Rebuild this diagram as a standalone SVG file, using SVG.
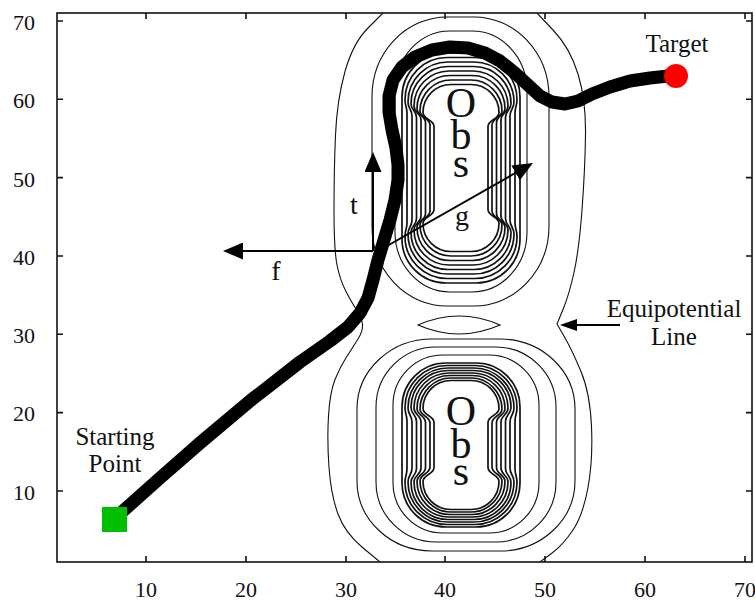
<svg xmlns="http://www.w3.org/2000/svg" width="755" height="601" viewBox="0 0 755 601">
<style>
  text{font-family:"Liberation Serif","Times New Roman",serif;fill:#111}
  .ax{fill:none;stroke:#111;stroke-width:1.6}
  .tk{font-size:22px}
  .lb{font-size:25px}
  .vl{font-size:28px}
  .ob{font-size:42px;text-anchor:middle}
  .c{fill:none;stroke:#111;stroke-width:1.1}
  .d{fill:none;stroke:#111;stroke-width:1.7}
  .ar{fill:none;stroke:#000;stroke-width:2}
</style>
<defs>
  <clipPath id="plot"><rect x="57" y="13" width="695" height="549"/></clipPath>
  <marker id="ah" viewBox="0 0 20 17" refX="16" refY="8.5" markerWidth="20" markerHeight="17" markerUnits="userSpaceOnUse" orient="auto">
    <path d="M0,0 L20,8.5 L0,17 Z" fill="#000"/>
  </marker>
  <marker id="ah2" viewBox="0 0 17 12" refX="14" refY="6" markerWidth="17" markerHeight="12" markerUnits="userSpaceOnUse" orient="auto">
    <path d="M0,0 L17,6 L0,12 Z" fill="#000"/>
  </marker>
</defs>
<rect width="755" height="601" fill="#fff"/>

<g id="axes">
  <rect class="ax" x="57" y="13" width="695" height="549"/>
  <path class="ax" d="M57,21H63M57,99.3H63M57,177.6H63M57,256H63M57,334.3H63M57,412.6H63M57,491H63
    M752,21H746M752,99.3H746M752,177.6H746M752,256H746M752,334.3H746M752,412.6H746M752,491H746
    M146,562V556M246,562V556M346,562V556M445,562V556M545,562V556M645,562V556M745,562V556
    M146,13V19M246,13V19M346,13V19M445,13V19M545,13V19M645,13V19M745,13V19"/>
  <g class="tk" text-anchor="end">
    <text x="35" y="30">70</text><text x="35" y="108">60</text><text x="35" y="187">50</text>
    <text x="35" y="265">40</text><text x="35" y="343">30</text><text x="35" y="421">20</text>
    <text x="35" y="500">10</text>
  </g>
  <g class="tk" text-anchor="middle">
    <text x="146" y="597">10</text><text x="246" y="597">20</text><text x="346" y="597">30</text>
    <text x="445" y="597">40</text><text x="545" y="597">50</text><text x="645" y="597">60</text>
    <text x="745" y="597">70</text>
  </g>
</g>

<g id="equipotential-lines" clip-path="url(#plot)">
  <path class="c" d="M383,13 L368,28 Q353,43 345,71.5 Q337,100 335.5,135 Q334,170 334,210 Q334,250 337,265 Q340,280 346,291.5 Q352,303 357,310.5 Q362,318 362.5,324.5 Q363,331 358,339 Q353,347 346.5,357 Q340,367 335,379.5 Q330,392 328.5,416 Q327,440 329,467.5 Q331,495 338,514 Q345,533 362.5,547.5 L380,562"/>
  <path class="c" d="M537,13 L553.5,30.5 Q570,48 578,74 Q586,100 585.5,135 Q585,170 582,210 Q579,250 574,272.5 Q569,295 563,309.5 L557,324 L564.5,337 Q572,350 581,371.5 Q590,393 591.5,426.5 Q593,460 588,487.5 Q583,515 573,530 Q563,545 551.5,553.5 L540,562"/>
  <path class="c" d="M418,325 Q459,307 500,325 Q459,343 418,325 Z"/>
</g>

<g id="obs-upper">
  <rect class="c" x="372" y="17" width="177" height="289" rx="75" ry="80"/>
  <rect class="c" x="395" y="31" width="132" height="261" rx="55" ry="60"/>
  <rect class="d" x="402" y="53" width="118" height="230" rx="44"/>
  <path class="d" d="M447,57.5 H475 A42 42 0 0 1 517,99.5 C517,106.5 515,106.5 515,113.5 V222.5 C515,229.5 517,229.5 517,236.5 A42 42 0 0 1 475,278.5 H447 A42 42 0 0 1 405,236.5 C405,229.5 407,229.5 407,222.5 V113.5 C407,106.5 405,106.5 405,99.5 A42 42 0 0 1 447,57.5 Z"/>
  <path class="d" d="M448,62 H474 A40 40 0 0 1 514,102 C514,109 510,109 510,116 V220 C510,227 514,227 514,234 A40 40 0 0 1 474,274 H448 A40 40 0 0 1 408,234 C408,227 412,227 412,220 V116 C412,109 408,109 408,102 A40 40 0 0 1 448,62 Z"/>
  <path class="d" d="M448,66.5 H474 A37 37 0 0 1 511,103.5 C511,110.5 505.5,110.5 505.5,117.5 V218.5 C505.5,225.5 511,225.5 511,232.5 A37 37 0 0 1 474,269.5 H448 A37 37 0 0 1 411,232.5 C411,225.5 416.5,225.5 416.5,218.5 V117.5 C416.5,110.5 411,110.5 411,103.5 A37 37 0 0 1 448,66.5 Z"/>
  <path class="d" d="M449,71 H473 A35 35 0 0 1 508,106 C508,113 501,113 501,120 V216 C501,223 508,223 508,230 A35 35 0 0 1 473,265 H449 A35 35 0 0 1 414,230 C414,223 421,223 421,216 V120 C421,113 414,113 414,106 A35 35 0 0 1 449,71 Z"/>
  <path class="d" d="M450,75.5 H472 A33 33 0 0 1 505,108.5 C505,115.5 496.5,115.5 496.5,122.5 V213.5 C496.5,220.5 505,220.5 505,227.5 A33 33 0 0 1 472,260.5 H450 A33 33 0 0 1 417,227.5 C417,220.5 425.5,220.5 425.5,213.5 V122.5 C425.5,115.5 417,115.5 417,108.5 A33 33 0 0 1 450,75.5 Z"/>
  <path class="d" d="M451,80 H471 A31 31 0 0 1 502,111 C502,118 492,118 492,125 V211 C492,218 502,218 502,225 A31 31 0 0 1 471,256 H451 A31 31 0 0 1 420,225 C420,218 430,218 430,211 V125 C430,118 420,118 420,111 A31 31 0 0 1 451,80 Z"/>
  <path class="d" d="M451,84.5 H471 A28 28 0 0 1 499,112.5 C499,119.5 488,119.5 488,126.5 V209.5 C488,216.5 499,216.5 499,223.5 A28 28 0 0 1 471,251.5 H451 A28 28 0 0 1 423,223.5 C423,216.5 434,216.5 434,209.5 V126.5 C434,119.5 423,119.5 423,112.5 A28 28 0 0 1 451,84.5 Z"/>
  <text class="ob"><tspan x="461" y="117">O</tspan><tspan x="461" y="149">b</tspan><tspan x="461" y="177">s</tspan></text>
</g>

<g id="obs-lower">
  <rect class="c" x="357" y="339" width="218" height="212" rx="75" ry="70"/>
  <rect class="c" x="376" y="347" width="180" height="195" rx="60" ry="60"/>
  <rect class="c" x="393" y="355" width="146" height="178" rx="50" ry="50"/>
  <rect class="d" x="402" y="363" width="118" height="164" rx="44"/>
  <path class="d" d="M447,365.5 H475 A42 42 0 0 1 517,407.5 C517,414.5 515,414.5 515,421.5 V468.5 C515,475.5 517,475.5 517,482.5 A42 42 0 0 1 475,524.5 H447 A42 42 0 0 1 405,482.5 C405,475.5 407,475.5 407,468.5 V421.5 C407,414.5 405,414.5 405,407.5 A42 42 0 0 1 447,365.5 Z"/>
  <path class="d" d="M448,368 H474 A40 40 0 0 1 514,408 C514,415 510,415 510,422 V468 C510,475 514,475 514,482 A40 40 0 0 1 474,522 H448 A40 40 0 0 1 408,482 C408,475 412,475 412,468 V422 C412,415 408,415 408,408 A40 40 0 0 1 448,368 Z"/>
  <path class="d" d="M448,370.5 H474 A37 37 0 0 1 511,407.5 C511,414.5 505.5,414.5 505.5,421.5 V468.5 C505.5,475.5 511,475.5 511,482.5 A37 37 0 0 1 474,519.5 H448 A37 37 0 0 1 411,482.5 C411,475.5 416.5,475.5 416.5,468.5 V421.5 C416.5,414.5 411,414.5 411,407.5 A37 37 0 0 1 448,370.5 Z"/>
  <path class="d" d="M449,373 H473 A35 35 0 0 1 508,408 C508,415 501,415 501,422 V468 C501,475 508,475 508,482 A35 35 0 0 1 473,517 H449 A35 35 0 0 1 414,482 C414,475 421,475 421,468 V422 C421,415 414,415 414,408 A35 35 0 0 1 449,373 Z"/>
  <path class="d" d="M450,375.5 H472 A33 33 0 0 1 505,408.5 C505,415.5 496.5,415.5 496.5,422.5 V467.5 C496.5,474.5 505,474.5 505,481.5 A33 33 0 0 1 472,514.5 H450 A33 33 0 0 1 417,481.5 C417,474.5 425.5,474.5 425.5,467.5 V422.5 C425.5,415.5 417,415.5 417,408.5 A33 33 0 0 1 450,375.5 Z"/>
  <path class="d" d="M451,378 H471 A31 31 0 0 1 502,409 C502,416 492,416 492,423 V467 C492,474 502,474 502,481 A31 31 0 0 1 471,512 H451 A31 31 0 0 1 420,481 C420,474 430,474 430,467 V423 C430,416 420,416 420,409 A31 31 0 0 1 451,378 Z"/>
  <path class="d" d="M451,380.5 H471 A28 28 0 0 1 499,408.5 C499,415.5 488,415.5 488,422.5 V467.5 C488,474.5 499,474.5 499,481.5 A28 28 0 0 1 471,509.5 H451 A28 28 0 0 1 423,481.5 C423,474.5 434,474.5 434,467.5 V422.5 C434,415.5 423,415.5 423,408.5 A28 28 0 0 1 451,380.5 Z"/>
  <text class="ob"><tspan x="461" y="425">O</tspan><tspan x="461" y="458">b</tspan><tspan x="461" y="485">s</tspan></text>
</g>

<g id="connectors">
  <polyline id="trajectory" fill="none" stroke="#000" stroke-width="13" stroke-linejoin="round" stroke-linecap="round"
    points="114,519 160,478 200,443 250,401 300,362 330,341 348,327 360,313 368,298 373,280 378,260 384,240 390,220 395,200 398,180 398,165 396,148 392,130 389,112 389,96 393,80 402,67 415,57 432,50 450,47 468,48 485,53 500,61 515,73 528,85 540,96 552,102 565,104 578,101 592,94 610,87 630,81 650,78 668,76"/>
  <line id="arrow-t" class="ar" x1="373" y1="251" x2="373" y2="156" marker-end="url(#ah)"/>
  <line id="arrow-f" class="ar" x1="373" y1="251" x2="227" y2="251" marker-end="url(#ah)"/>
  <line id="arrow-g" class="ar" x1="380" y1="250" x2="529.5" y2="165" marker-end="url(#ah)"/>
  <line id="arrow-eq" class="ar" x1="620" y1="325" x2="563" y2="325" marker-end="url(#ah2)"/>
  <text class="vl" x="354" y="214" text-anchor="middle">t</text>
  <text class="vl" x="276" y="280" text-anchor="middle">f</text>
  <text class="vl" x="462" y="225" text-anchor="middle">g</text>
</g>

<g id="start">
  <rect x="102" y="507" width="25" height="25" fill="#00bf00"/>
  <text class="lb" x="115" y="445" text-anchor="middle">Starting</text>
  <text class="lb" x="115" y="472" text-anchor="middle">Point</text>
</g>

<g id="target">
  <circle cx="676" cy="76" r="12" fill="#ff0000"/>
  <text class="lb" x="677" y="52" text-anchor="middle">Target</text>
</g>

<g id="equipotential-label">
  <text class="lb" x="674" y="317" text-anchor="middle">Equipotential</text>
  <text class="lb" x="674" y="345" text-anchor="middle">Line</text>
</g>
</svg>
